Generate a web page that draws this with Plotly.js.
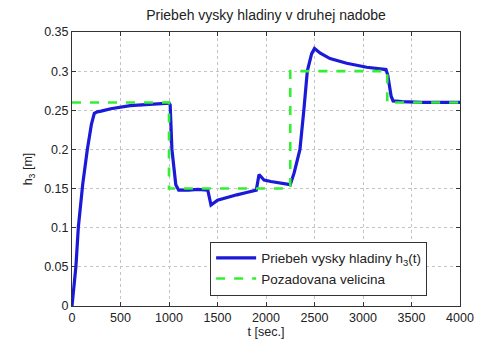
<!DOCTYPE html>
<html><head><meta charset="utf-8">
<script src="https://cdn.plot.ly/plotly-3.0.1.min.js"></script>
<style>html,body{margin:0;padding:0;background:#fff}#chart{width:482px;height:350px}</style>
</head><body><div id="chart"></div>
<script>
// Blue: actual level h3(t)
const tLevel = [0, 20, 40, 65, 110, 158, 200, 230, 260, 300, 400, 600, 800, 1000, 1012, 1030, 1070, 1100, 1200, 1300, 1400, 1433, 1500, 1600, 1700, 1800, 1900, 1928, 1980, 2050, 2150, 2250, 2290, 2350, 2390, 2426, 2470, 2500, 2560, 2660, 2832, 3038, 3237, 3255, 3290, 3310, 3400, 3600, 4000];
const hLevel = [0, 0.03, 0.05, 0.1, 0.155, 0.2, 0.232, 0.246, 0.248, 0.249, 0.252, 0.256, 0.258, 0.259, 0.257, 0.2, 0.155, 0.148, 0.148, 0.149, 0.148, 0.129, 0.135, 0.139, 0.142, 0.145, 0.148, 0.168, 0.161, 0.159, 0.157, 0.155, 0.17, 0.2, 0.25, 0.3, 0.322, 0.329, 0.323, 0.316, 0.31, 0.305, 0.302, 0.295, 0.268, 0.262, 0.261, 0.26, 0.26];
// Green: reference value
const tRef = [0, 1000, 1000, 2250, 2250, 3250, 3250, 4000];
const hRef = [0.26, 0.26, 0.15, 0.15, 0.30, 0.30, 0.26, 0.26];
const xTicks = [0, 500, 1000, 1500, 2000, 2500, 3000, 3500, 4000];
const yTicks = [0, 0.05, 0.1, 0.15, 0.2, 0.25, 0.3, 0.35];
const yTickText = ['0', '0.05', '0.1', '0.15', '0.2', '0.25', '0.3', '0.35'];

const fam = 'Liberation Sans, Arial, sans-serif';
const txt = '#222';
const traces = [
  {x: tLevel, y: hLevel, type: 'scatter', mode: 'lines', name: 'Priebeh vysky hladiny h<sub>3</sub>(t)',
   line: {color: '#1a1ad8', width: 3.2}},
  {x: tRef, y: hRef, type: 'scatter', mode: 'lines', name: 'Pozadovana velicina',
   line: {color: '#33ee33', width: 2.6, dash: 'dash'}}
];
const axisCommon = {showline: true, linecolor: '#333', linewidth: 1, mirror: 'ticks', ticks: 'inside', ticklen: 4,
  tickcolor: '#333', showgrid: true, gridcolor: '#c4c4c4', griddash: 'dot', gridwidth: 1, zeroline: false,
  tickfont: {family: fam, size: 12.5, color: txt}};
const layout = {
  width: 482, height: 350,
  margin: {l: 72, r: 22, t: 32, b: 44},
  paper_bgcolor: '#fff', plot_bgcolor: '#fff',
  font: {family: fam, size: 12, color: txt},
  showlegend: true,
  title: {text: 'Priebeh vysky hladiny v druhej nadobe', x: 0.552, xanchor: 'center', y: 0.958, yanchor: 'middle',
    font: {family: fam, size: 14, color: txt}},
  xaxis: Object.assign({}, axisCommon, {range: [0, 4000], tickvals: xTicks,
    title: {text: 't [sec.]', standoff: 3, font: {family: fam, size: 12.5, color: txt}}}),
  yaxis: Object.assign({}, axisCommon, {range: [0, 0.35], tickvals: yTicks, ticktext: yTickText,
    title: {text: 'h<sub>3</sub> [m]', standoff: 8, font: {family: fam, size: 12.5, color: txt}}}),
  legend: {x: 0.356, y: 0.235, xanchor: 'left', yanchor: 'top', bgcolor: '#fff', bordercolor: '#333', borderwidth: 1,
    font: {family: fam, size: 13.5, color: txt}, tracegroupgap: 0, itemwidth: 40}
};
Plotly.newPlot('chart', traces, layout, {displayModeBar: false, staticPlot: true});
</script></body></html>
